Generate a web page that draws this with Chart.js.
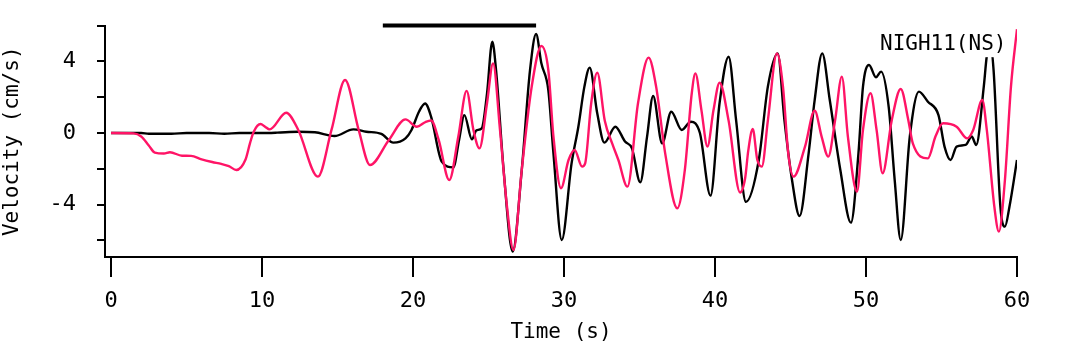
<!DOCTYPE html>
<html>
<head>
<meta charset="utf-8">
<script src="https://cdn.jsdelivr.net/npm/chart.js@4.4.1/dist/chart.umd.min.js"></script>
<style>
html,body{margin:0;padding:0;background:#fff;}
#wrap{width:1077px;height:344px;position:relative;}
</style>
</head>
<body>
<div id="wrap"><canvas id="c" width="1077" height="344"></canvas></div>
<script>
// Black trace (observed)
const timeBlack = [0,2,2.5,4,5,6.5,7.5,8.5,10,11,12.4,13.5,14.8,16.05,16.9,17.9,18.7,19.5,19.9,20.4,20.8,21.2,21.9,22.67,23.05,23.4,23.9,24.2,24.55,24.9,25.25,25.5,26.0,26.6,27.2,27.75,28.15,28.5,28.96,29.3,29.85,30.5,30.95,31.35,31.7,32.2,32.67,33.4,34.04,34.5,35.05,35.5,35.9,36.5,37.1,37.8,38.4,39.0,39.7,40.3,40.9,41.4,42.05,42.9,43.5,44.15,44.6,45.1,45.6,46.2,46.6,47.1,47.6,48.3,49.0,49.5,49.8,50.2,50.66,51.0,51.5,51.9,52.3,52.9,53.5,54.1,54.8,55.2,55.6,56.0,56.6,57.0,57.3,57.8,58.0,58.22,58.45,58.9,59.2,59.5,60.0];
const velBlack  = [0,0,-0.04,-0.04,0,0,-0.04,0,0,0.02,0.07,0.04,-0.17,0.2,0.07,-0.05,-0.54,-0.3,0.17,1.2,1.65,0.9,-1.6,-1.92,-0.39,1.0,-0.36,0.15,0.26,2.2,5.1,3.5,-2.07,-6.63,-2.07,3.52,5.53,3.89,2.4,-1.14,-5.98,-1.7,0.35,2.59,3.65,1.1,-0.54,0.35,-0.48,-0.86,-2.76,-0.2,2.07,-0.58,1.19,0.17,0.63,0,-3.5,1.66,4.26,0.69,-3.85,-1.51,2.59,4.45,0.69,-2.63,-4.64,-1.14,1.84,4.45,1.84,-2.07,-5.01,-1.14,2.59,3.8,3.11,3.43,1.47,-2.63,-5.98,-0.2,2.31,1.75,1.0,-0.76,-1.51,-0.76,-0.67,-0.2,-0.67,2.59,4.3,5.0,3.5,-4.12,-5.23,-4.12,-1.51];

// Pink trace (synthetic)
const timePink = [0,1.5,2.0,2.5,2.9,3.5,3.9,4.7,5.3,6.0,6.7,7.3,7.8,8.3,8.9,9.2,9.45,9.9,10.2,10.5,11.6,12.4,13.7,14.6,15.5,16.4,17.15,18.4,19.5,20.25,20.8,21.2,21.7,22.4,23.0,23.55,24.0,24.4,24.9,25.3,25.76,26.2,26.65,27.2,27.86,28.5,28.96,29.3,29.8,30.3,30.7,31.2,31.4,31.8,32.2,32.7,33.2,33.6,34.2,34.9,35.6,36.1,36.7,37.5,38.0,38.46,38.7,39.1,39.5,39.9,40.3,40.9,41.66,42.0,42.2,42.5,42.8,43.1,43.5,44.1,44.5,44.85,45.2,45.96,46.6,47.06,47.5,47.95,48.4,48.8,49.4,49.8,50.3,50.7,51.1,51.7,52.3,52.8,53.1,54.1,54.6,55.1,56.0,56.7,57.1,57.7,58.0,58.5,58.8,59.2,59.6,60.0];
const velPink  = [0,-0.02,-0.2,-0.7,-1.1,-1.15,-1.08,-1.27,-1.28,-1.47,-1.62,-1.73,-1.85,-2.07,-1.5,-0.58,0.07,0.5,0.35,0.2,1.13,0.17,-2.44,0.17,2.96,0.17,-1.79,-0.39,0.76,0.35,0.6,0.7,-0.39,-2.63,-0.2,2.35,0.17,-0.86,1.66,3.89,0.17,-3.93,-6.54,-2.07,2.59,4.86,3.52,-0.2,-3.09,-1.51,-0.95,-1.88,-1.7,1.66,3.37,0.69,-0.61,-1.51,-3.0,1.66,4.21,2.59,-1.14,-4.21,-2.07,2.22,3.33,1.28,-0.76,1.28,2.81,0.69,-3.33,-2.5,-1.0,0.22,-1.5,-1.88,0.69,4.45,2.59,-1.14,-2.44,-0.76,1.25,-0.2,-1.32,0.69,3.15,-0.2,-3.28,0.17,2.22,0.17,-2.25,0.69,2.46,0.73,-0.58,-1.42,-0.2,0.54,0.35,-0.3,0.17,1.84,0.17,-4.12,-5.51,-2.63,2.59,5.8];

// Marker bar at top of plot
const barTimes = [18, 28.15];
const barLevel = 6;

const xTicks = [0,10,20,30,40,50,60];
const yTicks = [-6,-4,-2,0,2,4,6];
const yLabelled = [-4,0,4];
const stationLabel = 'NIGH11(NS)';

const FONT = "'DejaVu Sans Mono', 'Liberation Mono', monospace";

const labelPlugin = {
  id: 'stationLabel',
  afterDatasetsDraw(chart) {
    const ctx = chart.ctx;
    ctx.save();
    ctx.font = '21px ' + FONT;
    const w = ctx.measureText(stationLabel).width;
    const xR = chart.scales.x.getPixelForValue(59.3);
    const yT = chart.scales.y.getPixelForValue(5.8);
    ctx.fillStyle = '#fff';
    ctx.fillRect(xR - w - 3, yT, w + 6, 28);
    ctx.fillStyle = '#000';
    ctx.textAlign = 'right';
    ctx.textBaseline = 'middle';
    ctx.fillText(stationLabel, xR, yT + 15);
    ctx.restore();
  }
};

new Chart(document.getElementById('c'), {
  type: 'line',
  data: {
    datasets: [
      {
        data: timePink.map((t, i) => ({x: t, y: velPink[i]})),
        borderColor: '#ff1466',
        borderWidth: 2.4,
        pointRadius: 0,
        cubicInterpolationMode: 'monotone',
        order: 1
      },
      {
        data: timeBlack.map((t, i) => ({x: t, y: velBlack[i]})),
        borderColor: '#000',
        borderWidth: 2.4,
        pointRadius: 0,
        cubicInterpolationMode: 'monotone',
        order: 2
      },
      {
        data: barTimes.map(t => ({x: t, y: barLevel})),
        borderColor: '#000',
        borderWidth: 4,
        pointRadius: 0,
        clip: false,
        order: 0
      }
    ]
  },
  options: {
    responsive: false,
    animation: false,
    devicePixelRatio: 1,
    layout: {padding: {top: 25.6, right: 60, left: 0, bottom: 0}},
    plugins: {legend: {display: false}, tooltip: {enabled: false}},
    scales: {
      x: {
        type: 'linear',
        min: -0.4, max: 60,
        afterFit(s) { s.height = 87; },
        afterBuildTicks(s) { s.ticks = xTicks.map(v => ({value: v})); },
        grid: {drawOnChartArea: false, drawTicks: true, tickLength: 20, color: '#000', lineWidth: 2},
        border: {display: true, color: '#000', width: 2},
        ticks: {color: '#000', font: {family: FONT, size: 22}, padding: 11, maxRotation: 0, autoSkip: false},
        title: {display: true, text: 'Time (s)', color: '#000', font: {family: FONT, size: 21, lineHeight: 1.1}, padding: {top: 0, bottom: 0}}
      },
      y: {
        min: -6.93, max: 6,
        afterFit(s) { s.width = 105; s.paddingTop = 0; s.paddingBottom = 0; },
        afterBuildTicks(s) { s.ticks = yTicks.map(v => ({value: v})); },
        grid: {drawOnChartArea: false, drawTicks: true, tickLength: 8, color: '#000', lineWidth: 2},
        border: {display: true, color: '#000', width: 2},
        ticks: {
          color: '#000', font: {family: FONT, size: 22}, padding: 21, autoSkip: false,
          callback: v => yLabelled.includes(v) ? String(v) : ''
        },
        title: {display: true, text: 'Velocity (cm/s)', color: '#000', font: {family: FONT, size: 21}, padding: {top: 0, bottom: 0}}
      }
    }
  },
  plugins: [labelPlugin]
});
</script>
</body>
</html>
